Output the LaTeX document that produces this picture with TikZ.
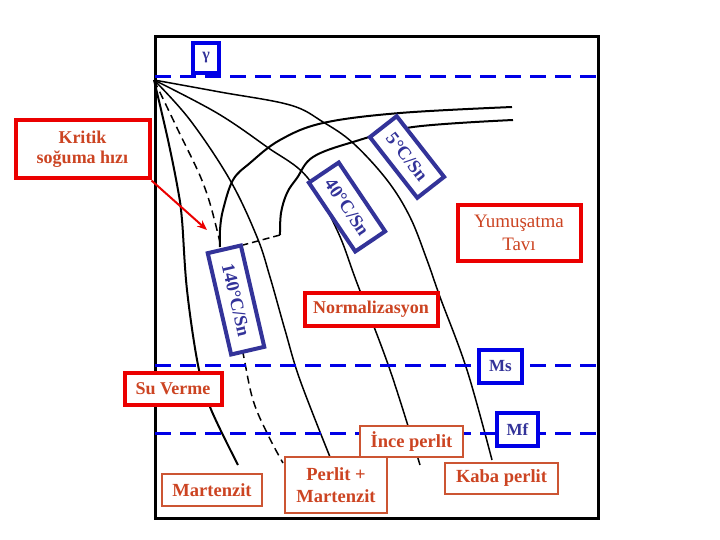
\documentclass[tikz,border=0pt]{standalone}
\usepackage{fontspec}
\setmainfont{Liberation Serif}
\usetikzlibrary{arrows.meta}
\definecolor{lblred}{RGB}{204,68,34}
\definecolor{boxred}{RGB}{235,0,0}
\definecolor{navy}{RGB}{51,51,153}
\definecolor{pblue}{RGB}{0,0,230}
\definecolor{thinor}{RGB}{204,85,51}
\begin{document}
\begin{tikzpicture}[x=1pt,y=-1pt,
  redbox/.style={draw=boxred,line width=4pt,fill=white,text=lblred,align=center,inner sep=0pt,
    font=\fontsize{18}{20}\selectfont\bfseries},
  thinbox/.style={draw=thinor,line width=1.2pt,fill=white,text=lblred,align=center,inner sep=0pt,
    font=\fontsize{18.5}{22}\selectfont\bfseries},
  rotbox/.style={draw=navy,line width=4pt,fill=white,text=navy,inner sep=0pt,
    font=\fontsize{18.5}{20}\selectfont\bfseries},
  mbox/.style={draw=pblue,line width=4pt,fill=white,text=navy,inner sep=0pt,
    font=\fontsize{17}{19}\selectfont\bfseries},
  curve/.style={black,line width=1.5pt,line join=round},
  ccurve/.style={black,line width=2pt,line join=round},
  bluedash/.style={pblue,line width=3pt,dash pattern=on 16pt off 9pt}]
\useasboundingbox (0,0) rectangle (720,540);
% frame
\draw[line width=3pt] (155,37) rectangle (598,518);
% cooling curves
\draw[ccurve] plot[smooth,tension=0.6] coordinates {(154,80) (168,140) (178,190) (182,220) (187,290) (198,365) (210,407) (238,465)};
\draw[curve,dash pattern=on 8pt off 5pt] plot[smooth,tension=0.6] coordinates {(154,80) (178,130) (203,183) (217,230) (230,290) (243,353) (253,400) (268,435) (283,463)};
\draw[curve] plot[smooth,tension=0.6] coordinates {(154,80) (190,120) (230,180) (257,237) (270,277) (285,330) (300,380) (330,457)};
\draw[curve] plot[smooth,tension=0.6] coordinates {(154,80) (217,113) (267,147) (307,177) (337,230) (357,283) (390,370) (420,465)};
\draw[curve] plot[smooth,tension=0.6] coordinates {(154,80) (220,92) (290,105) (323,122) (353,143) (387,180) (410,217) (427,260) (440,297) (467,370) (492,460)};
% transformation C-curves
\draw[ccurve] plot[smooth,tension=0.6] coordinates {(220,247) (220,230) (223,210) (233,180) (250,163) (280,140) (323,123) (400,113) (512,107)};
\draw[ccurve] plot[smooth,tension=0.6] coordinates {(280,235) (281,213) (287,193) (297,178) (313,157) (353,142) (413,127) (513,120)};
\draw[curve,dash pattern=on 7pt off 4pt] (280,235) -- (243,245);
% temperature lines
\draw[bluedash] (155,77) -- (600,77);
\draw[bluedash] (155,365) -- (600,365);
\draw[bluedash] (155,433) -- (600,433);
% blue labels
\node[mbox,minimum width=26pt,minimum height=30pt,font=\fontsize{16}{18}\selectfont\bfseries] (gamma) at (206,58) {γ};
\node[mbox,minimum width=43pt,minimum height=33pt] (ms) at (500.5,366.5) {Ms};
\node[mbox,minimum width=41pt,minimum height=33pt] (mf) at (517.5,429.5) {Mf};
\node[rotbox,minimum width=77pt,minimum height=34pt,rotate=-52] (c5) at (407,157) {5°C/Sn};
\node[rotbox,minimum width=83pt,minimum height=36pt,rotate=-56] (c40) at (347,207) {40°C/Sn};
\node[rotbox,minimum width=104pt,minimum height=34pt,rotate=-77] (c140) at (236,300) {140°C/Sn};
% red labels
\node[redbox,minimum width=134pt,minimum height=58pt] (kritik) at (82.5,149.5) {Kritik\\soğuma hızı};
\node[redbox,minimum width=123pt,minimum height=55pt,font=\fontsize{19}{23}\selectfont] (yum) at (519,233) {Yumuşatma\\Tavı};
\node[redbox,minimum width=133pt,minimum height=33pt] (norm) at (371,309) {Normalizasyon};
\node[redbox,minimum width=97pt,minimum height=32pt] (su) at (173,389) {Su Verme};
% product labels
\node[thinbox,minimum width=103pt,minimum height=31pt] (ince) at (411.5,441.5) {İnce perlit};
\node[thinbox,minimum width=102pt,minimum height=56pt] (pm) at (336,485) {Perlit +\\Martenzit};
\node[thinbox,minimum width=100pt,minimum height=32pt] (mart) at (212,490) {Martenzit};
\node[thinbox,minimum width=113pt,minimum height=31pt] (kaba) at (501.5,478.5) {Kaba perlit};
% arrow
\coordinate (aend) at (207,230);
\draw[boxred,line width=2pt,-{Stealth[length=10pt,width=8pt]}] (kritik.south east) -- (aend);
\end{tikzpicture}
\end{document}
